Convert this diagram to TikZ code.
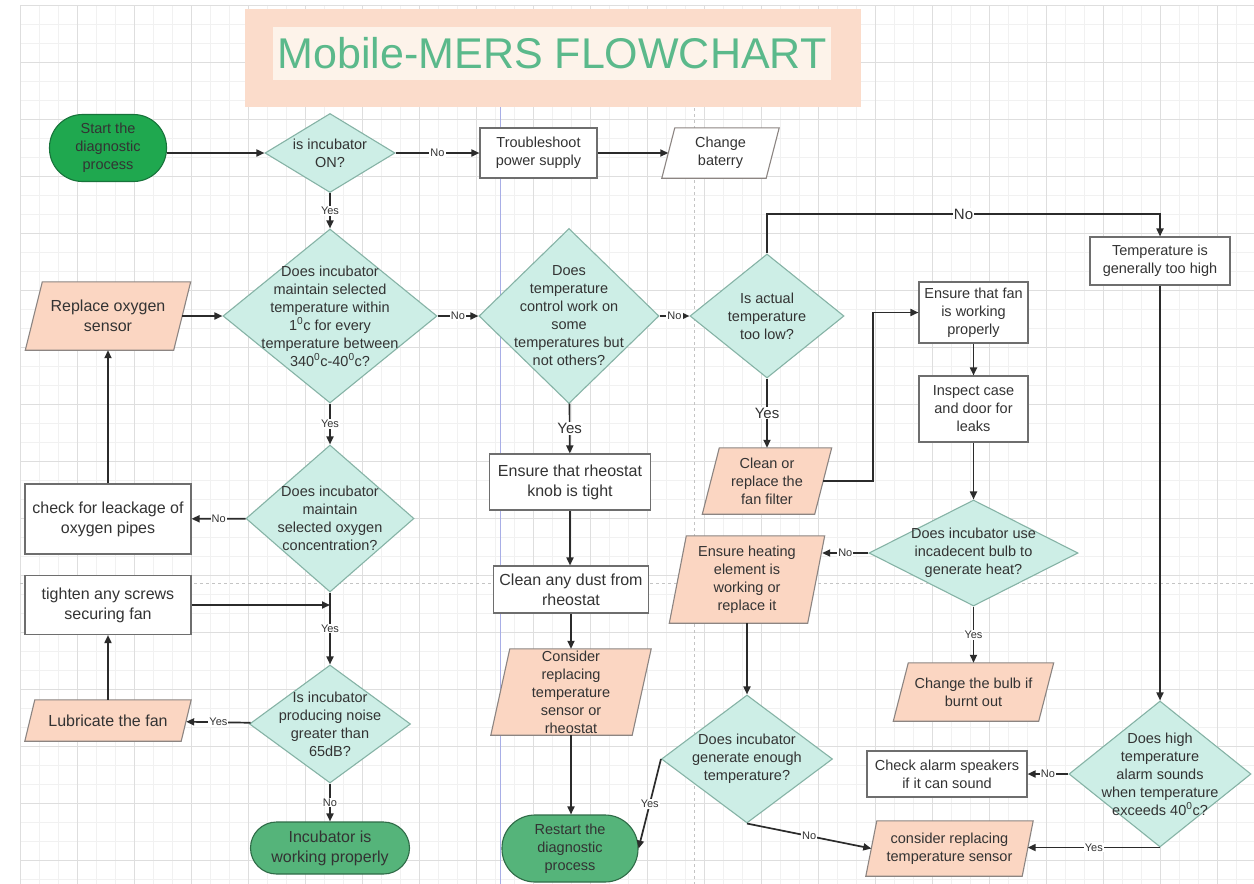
\documentclass[tikz,border=0pt]{standalone}
\usepackage{fontspec}
\setmainfont{Liberation Sans}
\usetikzlibrary{shapes.geometric,arrows.meta}
\pgfdeclarelayer{gridlayer}
\pgfdeclarelayer{shapelayer}
\pgfsetlayers{gridlayer,shapelayer,main}

\definecolor{txt}{HTML}{333333}
\definecolor{lc}{HTML}{2B2B2B}
\definecolor{bord}{HTML}{6E6E6E}
\definecolor{mint}{HTML}{CDEEE6}
\definecolor{mintb}{HTML}{86B3A6}
\definecolor{sal}{HTML}{FBD6C2}
\definecolor{salb}{HTML}{8C8582}
\definecolor{startg}{HTML}{1FA84F}
\definecolor{startb}{HTML}{17733A}
\definecolor{endg}{HTML}{55B47A}
\definecolor{endb}{HTML}{2F6B47}
\definecolor{titlebg}{HTML}{FBDCCB}
\definecolor{titlein}{HTML}{FDF3EA}
\definecolor{titletx}{HTML}{5BB98B}
\definecolor{gridmin}{HTML}{F1F1F1}
\definecolor{gridmaj}{HTML}{DEDEDE}
\definecolor{pageblue}{HTML}{A8AEE6}
\definecolor{pagegray}{HTML}{C4C4C4}

\tikzset{
  base/.style={text=txt, align=center, inner sep=0pt, font=\fontsize{14.5}{18}\selectfont},
  bigtext/.style={font=\fontsize{16}{20}\selectfont},
  box/.style={base, draw=bord, fill=white, line width=1.1pt},
  dec/.style={diamond, draw=mintb, fill=mint, line width=1.1pt, inner sep=0pt},
  dtxt/.style={base},
  para/.style={base, draw=none},
  paraedge/.style={draw=salb, line width=1.1pt, line join=miter},
  term/.style={base, draw=endb, fill=endg, line width=1.1pt},
  arr/.style={draw=lc, line width=1.7pt, -{Triangle[length=8pt,width=7pt]}},
  lbl/.style={fill=white, inner sep=1pt, text=txt, font=\fontsize{11}{13}\selectfont},
  lblL/.style={fill=white, inner sep=1pt, text=txt, font=\fontsize{15}{17}\selectfont},
}

\begin{document}
\begin{tikzpicture}[x=1pt,y=-1pt]
\useasboundingbox (0,0) rectangle (1254,884);

% background sheet with grid and page-break guides
\begin{pgfonlayer}{gridlayer}
  \fill[white] (0,0) rectangle (1254,884);
  \foreach \gx in {20,39,...,1254} \draw[gridmin, line width=0.8pt] (\gx,5) -- (\gx,884);
  \foreach \gy in {5,24,...,884} \draw[gridmin, line width=0.8pt] (20,\gy) -- (1254,\gy);
  \foreach \gx in {20,77,...,1254} \draw[gridmaj, line width=0.8pt] (\gx,5) -- (\gx,884);
  \foreach \gy in {5,62,...,884} \draw[gridmaj, line width=0.8pt] (20,\gy) -- (1254,\gy);
  \draw[pageblue, line width=1pt] (500,100) -- (500,884);
  \draw[pagegray, dashed, line width=0.8pt] (694,108) -- (694,884);
  \draw[pagegray, dashed, line width=0.8pt] (20,583) -- (1254,583);
\end{pgfonlayer}

% title banner
\node[fill=titlebg, minimum width=616pt, minimum height=98pt, inner sep=0pt] (titlebox) at (553,58) {};
\node[fill=titlein, minimum width=558pt, minimum height=53pt, inner sep=0pt, text=titletx,
      font=\fontsize{43}{50}\selectfont] (title) at (552,53.5) {Mobile-MERS FLOWCHART};

% terminals
\node[base, draw=startb, fill=startg, line width=1.1pt, rounded corners=33pt,
      minimum width=117pt, minimum height=67pt] (start) at (108,148) {Start the\\diagnostic\\process};
\node[term, bigtext, rounded corners=26pt, minimum width=159pt, minimum height=52pt] (work) at (330,848) {Incubator is\\working properly};
\node[term, rounded corners=33pt, minimum width=136pt, minimum height=67pt] (rst) at (570,848.5) {Restart the\\diagnostic\\process};

% decisions
\node[dec, minimum width=130pt, minimum height=79pt, label={[dtxt]center:{is incubator\\ON?}}] (d1) at (330,153) {};
\node[dec, minimum width=214pt, minimum height=174pt, label={[dtxt]center:{Does incubator\\maintain selected\\temperature within\\1\textsuperscript{0}c for every\\temperature between\\340\textsuperscript{0}c-40\textsuperscript{0}c?}}] (d2) at (330,316) {};
\node[dec, minimum width=180pt, minimum height=175pt, label={[dtxt]center:{Does\\temperature\\control work on\\some\\temperatures but\\not others?}}] (d3) at (569,316) {};
\node[dec, minimum width=154pt, minimum height=124pt, label={[dtxt]center:{Is actual\\temperature\\too low?}}] (d4) at (767,316) {};
\node[dec, minimum width=168pt, minimum height=147pt, label={[dtxt]center:{Does incubator\\maintain\\selected oxygen\\concentration?}}] (d5) at (330,518.5) {};
\node[dec, minimum width=161pt, minimum height=118pt, label={[dtxt]center:{Is incubator\\producing noise\\greater than\\65dB?}}] (d6) at (330,724) {};
\node[dec, minimum width=209pt, minimum height=106pt, label={[dtxt]center:{Does incubator use\\incadecent bulb to\\generate heat?}}] (d7) at (973.5,553) {};
\node[dec, minimum width=171pt, minimum height=128pt, label={[dtxt]center:{Does incubator\\generate enough\\temperature?}}] (d8) at (747,759) {};
\node[dec, minimum width=182pt, minimum height=146pt, label={[dtxt]center:{Does high\\temperature\\alarm sounds\\when temperature\\exceeds 40\textsuperscript{0}c?}}] (d9) at (1160,774) {};

% process boxes
\node[box, minimum width=117pt, minimum height=50pt] (tps) at (538.5,153) {Troubleshoot\\power supply};
\node[box, minimum width=140pt, minimum height=48pt] (tgh) at (1160,261) {Temperature is\\generally too high};
\node[box, minimum width=109pt, minimum height=61pt] (efn) at (973.5,312.5) {Ensure that fan\\is working\\properly};
\node[box, minimum width=109pt, minimum height=66pt] (ins) at (973.5,409) {Inspect case\\and door for\\leaks};
\node[box, bigtext, minimum width=166pt, minimum height=70pt] (chk) at (108,519) {check for leackage of\\oxygen pipes};
\node[box, bigtext, minimum width=166pt, minimum height=59pt] (tgt) at (108,605) {tighten any screws\\securing fan};
\node[box, bigtext, minimum width=161pt, minimum height=56pt] (ens) at (570,482) {Ensure that rheostat\\knob is tight};
\node[box, bigtext, minimum width=155pt, minimum height=47pt] (cld) at (571,589.5) {Clean any dust from\\rheostat};
\node[box, minimum width=160pt, minimum height=46pt] (cas) at (947,774) {Check alarm speakers\\if it can sound};

% parallelogram steps (text holders; outlines drawn below)
\node[para, minimum width=104pt, minimum height=50pt] (chb) at (720.5,153) {Change\\baterry};
\node[para, bigtext, minimum width=148pt, minimum height=68pt] (rox) at (108,316) {Replace oxygen\\sensor};
\node[para, bigtext, minimum width=156pt, minimum height=41pt] (lub) at (108,720.5) {Lubricate the fan};
\node[para, minimum width=112pt, minimum height=66pt] (cfl) at (767,481) {Clean or\\replace the\\fan filter};
\node[para, minimum width=138pt, minimum height=87pt] (ehe) at (747,579.5) {Ensure heating\\element is\\working or\\replace it};
\node[para, minimum width=145pt, minimum height=58pt] (cbu) at (973.5,692) {Change the bulb if\\burnt out};
\node[para, minimum width=141pt, minimum height=86pt] (crt) at (571,692) {Consider\\replacing\\temperature\\sensor or\\rheostat};
\node[para, minimum width=156pt, minimum height=55pt] (crs) at (949.5,848.5) {consider replacing\\temperature sensor};

\begin{pgfonlayer}{shapelayer}
  \foreach \nm/\sl/\cl in {chb/13/white, rox/17/sal, lub/10/sal, cfl/17/sal, ehe/17/sal, cbu/15/sal, crt/19/sal, crs/11/sal}
    \draw[paraedge, fill=\cl] ([xshift=-\sl/2]\nm.south west) -- ([xshift=-\sl/2]\nm.south east)
      -- ([xshift=\sl/2]\nm.north east) -- ([xshift=\sl/2]\nm.north west) -- cycle;
\end{pgfonlayer}

% helper points for routed connectors
\coordinate (topline) at (0,214);
\coordinate (elb) at (873,0);

% connectors
\draw[arr] (start.east |- d1.west) -- (d1.west);
\draw[arr] (d1) -- node[lbl]{No} (tps);
\draw[arr] (tps) -- (chb);
\draw[arr] (d1) -- node[lbl]{Yes} (d2);
\draw[arr] (rox) -- (d2);
\draw[arr] (d2) -- node[lbl]{No} (d3);
\draw[arr] (d3) -- node[lbl]{No} (d4);
\draw[arr] (d4.north) -- (d4.north |- topline) -| node[lblL, pos=0.25]{No} (tgh.north);
\draw[arr] (d4) -- node[lblL]{Yes} (cfl);
\draw[arr] (cfl.east) -- (cfl.east -| elb) |- (efn.west);
\draw[arr] (efn) -- (ins);
\draw[arr] (ins) -- (d7);
\draw[arr] (d7.west) -- node[lbl]{No} ([xshift=6pt]d7.west -| ehe.east);
\draw[arr] (d7) -- node[lbl]{Yes} (cbu);
\draw[arr] (ehe) -- (d8);
\draw[arr] (d8.west) -- node[lbl]{Yes} (rst.east);
\draw[arr] (d8.south) -- node[lbl]{No} (crs.west);
\draw[arr] (tgh) -- (d9);
\draw[arr] (d9) -- node[lbl]{No} (cas);
\draw[arr] (d9.south) -- node[lbl]{Yes} (d9.south -| crs.east);
\draw[arr] (d3) -- node[lblL]{Yes} (ens);
\draw[arr] (ens) -- (ens |- cld.north);
\draw[arr] (cld) -- (cld |- crt.north);
\draw[arr] (crt) -- (crt |- rst.north);
\draw[arr] (d2) -- node[lbl]{Yes} (d5);
\draw[arr] (d5) -- node[lbl]{No} (chk);
\draw[arr] (chk) -- (rox);
\draw[arr] (d5) -- node[lbl]{Yes} (d6);
\draw[arr] (tgt.east) -- (tgt.east -| d5.south);
\draw[arr] (d6) -- node[lbl]{Yes} (lub);
\draw[arr] (lub) -- (tgt);
\draw[arr] (d6) -- node[lbl]{No} (work);
\end{tikzpicture}
\end{document}
